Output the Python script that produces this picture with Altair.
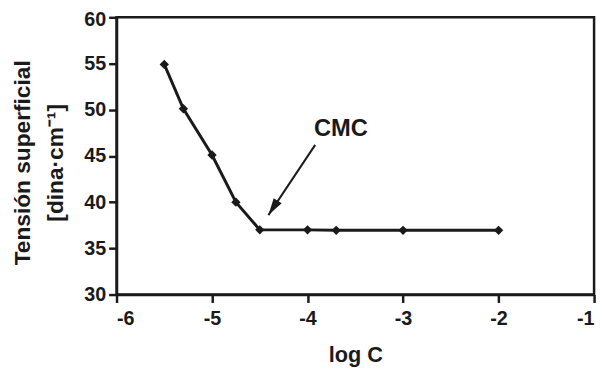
import altair as alt
import pandas as pd

log_c = [-5.5, -5.3, -5.0, -4.75, -4.5, -4.0, -3.7, -3.0, -2.0]
tension = [54.9, 50.1, 45.1, 40.0, 37.0, 37.0, 36.95, 36.95, 36.95]

arrow_x = [-3.92, -4.41]
arrow_y = [46.2, 38.6]
label_text = ["CMC"]
label_x = [-3.65]
label_y = [47.9]

df = pd.DataFrame({"x": log_c, "y": tension})
arrow_df = pd.DataFrame({"x": [arrow_x[0]], "y": [arrow_y[0]], "x2": [arrow_x[1]], "y2": [arrow_y[1]]})
head_df = pd.DataFrame({"x": [arrow_x[1]], "y": [arrow_y[1]]})
text_df = pd.DataFrame({"x": label_x, "y": label_y, "t": label_text})

FONT = "Liberation Sans"
INK = "#1a1a1a"

xscale = alt.Scale(domain=[-6, -1], nice=False, zero=False)
yscale = alt.Scale(domain=[30, 60], nice=False, zero=False)

base = alt.Chart(df)

line = base.mark_line(color=INK, strokeWidth=3).encode(
    x=alt.X("x:Q", scale=xscale,
            axis=alt.Axis(title="log C", values=[-6, -5, -4, -3, -2, -1], format="d",
                          labelExpr="replace(datum.label, '−', '-')",
                          labelPadding=6, titlePadding=17, titleFontSize=22)),
    y=alt.Y("y:Q", scale=yscale,
            axis=alt.Axis(title=["Tensión superficial", "[dina·cm⁻¹]"],
                          values=[30, 35, 40, 45, 50, 55, 60], titlePadding=17,
                          titleLineHeight=33, titleFontSize=23, titleY=147,
                          labelOffset={"expr": "datum.value == 60 ? 2 : 0"})),
)

pts = base.mark_point(shape="diamond", filled=True, color=INK, size=90, opacity=1).encode(
    x="x:Q", y="y:Q"
)

arrow = alt.Chart(arrow_df).mark_rule(color=INK, strokeWidth=2).encode(
    x="x:Q", y="y:Q", x2="x2:Q", y2="y2:Q"
)

head = alt.Chart(head_df).mark_point(
    shape="M0,0 L-0.28,1 L0.28,1 Z", filled=True, color=INK, size=1200, opacity=1, angle=213
).encode(x="x:Q", y="y:Q")

txt = alt.Chart(text_df).mark_text(
    font=FONT, fontWeight="bold", fontSize=24, color=INK
).encode(x="x:Q", y="y:Q", text="t:N")

chart = alt.layer(line, pts, arrow, head, txt).properties(
    width=484, height=281,
    autosize=alt.AutoSizeParams(type="none"),
    padding={"left": 110, "top": 7, "right": 6, "bottom": 72},
).configure_view(
    stroke=INK, strokeWidth=2.5
).configure_axis(
    domainColor=INK, domainWidth=2.5, tickColor=INK, tickWidth=2.5, tickSize=8,
    grid=False, labelFont=FONT, labelFontWeight="bold", labelFontSize=20,
    labelColor=INK, titleFont=FONT, titleFontWeight="bold",
    titleColor=INK, labelPadding=3
)

chart.save("out.html", embed_options={"renderer": "svg", "actions": False})
